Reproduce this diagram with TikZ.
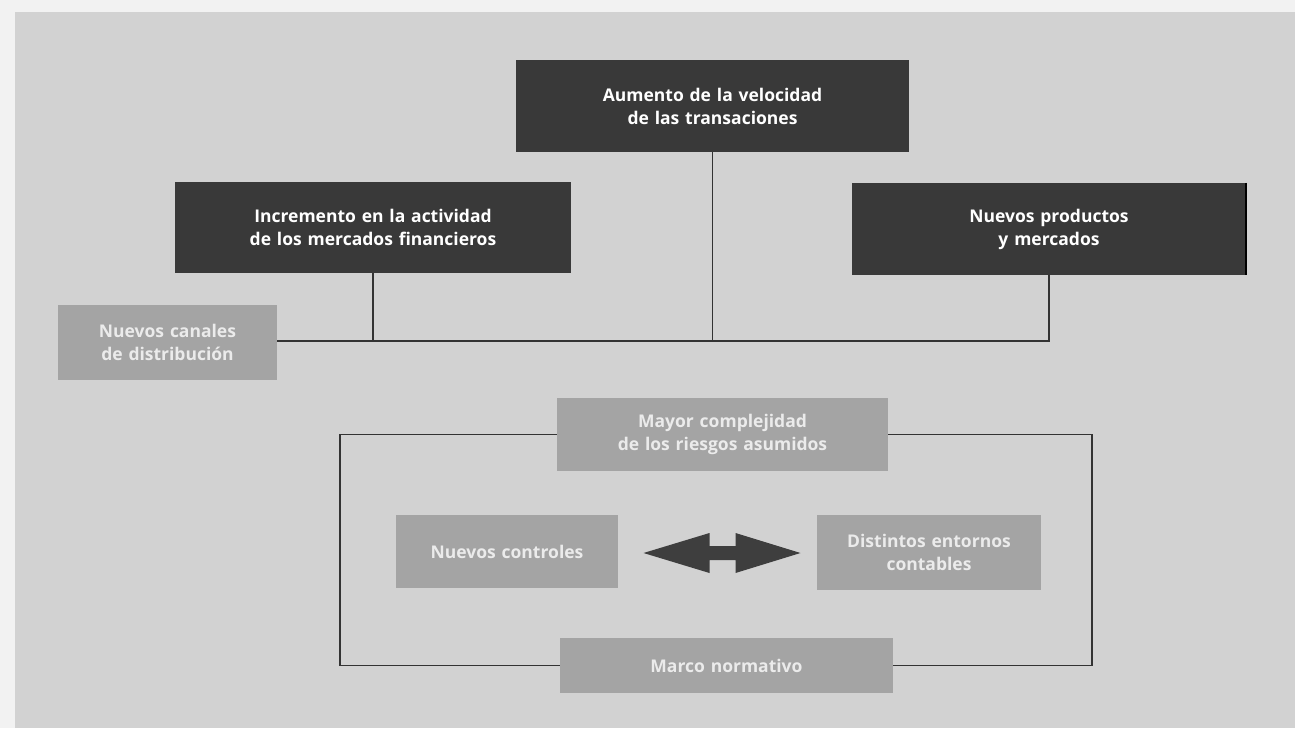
\documentclass[tikz,border=0pt]{standalone}
\usepackage{fontspec}
\setmainfont{Open Sans}
\usetikzlibrary{calc}
\begin{document}
\begin{tikzpicture}[x=1pt,y=-1pt,
  every node/.style={font=\fontsize{17.5}{23}\selectfont\bfseries, align=center, inner sep=0pt, text=white},
  darkbox/.style={fill=boxdark, minimum width=#1, text width=#1},
  lightbox/.style={fill=boxlight, minimum width=#1, text width=#1, text=white!92!black},
  link/.style={draw=linecol, line width=1.3pt}]
\definecolor{bg}{HTML}{D2D2D2}
\definecolor{boxdark}{HTML}{393939}
\definecolor{boxlight}{HTML}{A4A4A4}
\definecolor{linecol}{HTML}{333333}
\definecolor{arrowcol}{HTML}{3E3E3E}

% page and grey panel
\useasboundingbox (0,0) rectangle (1295,728);
\fill[white!95!black] (0,0) rectangle (1295,728);
\fill[bg] (15,12) rectangle (1295,728);

% top tier
\node[darkbox=393, minimum height=92] (vel) at (712.5,106) {Aumento de la velocidad\\de las transaciones};
\node[darkbox=396, minimum height=91] (merc) at (373,227.5) {Incremento en la actividad\\de los mercados financieros};
\node[darkbox=394, minimum height=92] (prod) at (1049,229) {Nuevos productos\\y mercados};
\draw[black, line width=2.5pt] (prod.north east) -- (prod.south east);
\node[lightbox=219, minimum height=75] (can) at (167.5,342.5) {Nuevos canales\\de distribución};

% bus joining the top tier
\coordinate (busend) at (1050,341);
\draw[link] (can.east |- busend) -- (busend);
\draw[link] (merc.south) -- (merc.south |- busend);
\draw[link] (vel.south) -- (vel.south |- busend);
\draw[link] (prod.south) -- (prod.south |- busend);

% lower group
\node[lightbox=331, minimum height=73] (riesgo) at (722.5,434.5) {Mayor complejidad\\de los riesgos asumidos};
\node[lightbox=222, minimum height=73] (ctrl) at (507,551.5) {Nuevos controles};
\node[lightbox=224, minimum height=75] (cont) at (929,552.5) {Distintos entornos\\contables};
\node[lightbox=333, minimum height=55] (marco) at (726.5,665.5) {Marco normativo};

% frame around the lower group
\coordinate (fl) at (340,437);
\coordinate (fr) at (1092,437);
\draw[link] (riesgo.west) -- (riesgo.west -| fl) |- (marco.west);
\draw[link] (riesgo.east) -- (riesgo.east -| fr) |- (marco.east);

% double arrow between the two middle boxes
\coordinate (dc) at (722.5,553);
\fill[arrowcol] ($(dc)+(-79,0)$) -- ($(dc)+(-13,-20)$) -- ($(dc)+(-13,-7)$) -- ($(dc)+(13,-7)$)
  -- ($(dc)+(13,-20)$) -- ($(dc)+(78,0)$) -- ($(dc)+(13,20)$) -- ($(dc)+(13,7)$)
  -- ($(dc)+(-13,7)$) -- ($(dc)+(-13,20)$) -- cycle;
\end{tikzpicture}
\end{document}
